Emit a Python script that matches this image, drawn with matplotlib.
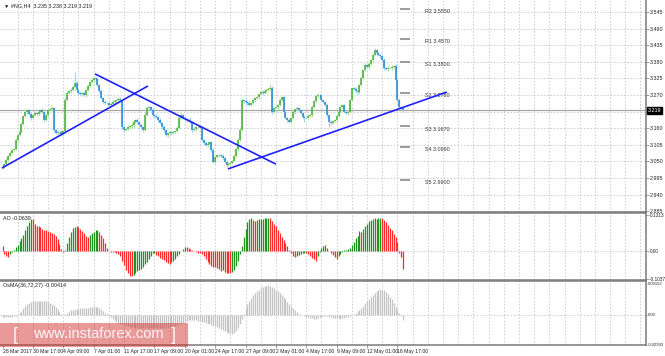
import matplotlib
matplotlib.use("Agg")
import matplotlib.pyplot as plt
import matplotlib.transforms as mtransforms
from matplotlib.patches import Rectangle

plt.rcParams["font.family"] = ["Liberation Sans", "DejaVu Sans"]

# H4 closes (bar 0 = 28 Mar 2017 01:00)
closes = [
    3.032, 3.042, 3.055, 3.068, 3.078, 3.088, 3.091, 3.121, 3.138, 3.148,
    3.174, 3.201, 3.214, 3.220, 3.207, 3.194, 3.204, 3.211, 3.207, 3.214,
    3.220, 3.214, 3.187, 3.204, 3.220, 3.224, 3.227, 3.154, 3.144, 3.148,
    3.148, 3.141, 3.151, 3.254, 3.277, 3.283, 3.287, 3.297, 3.310, 3.287,
    3.277, 3.273, 3.277, 3.270, 3.287, 3.300, 3.313, 3.320, 3.326, 3.323,
    3.303, 3.283, 3.260, 3.247, 3.244, 3.244, 3.237, 3.240, 3.247, 3.250,
    3.254, 3.257, 3.254, 3.164, 3.154, 3.158, 3.164, 3.167, 3.171, 3.181,
    3.187, 3.181, 3.171, 3.164, 3.154, 3.204, 3.227, 3.230, 3.220, 3.204,
    3.201, 3.197, 3.187, 3.177, 3.164, 3.154, 3.138, 3.144, 3.148, 3.144,
    3.148, 3.151, 3.161, 3.194, 3.204, 3.194, 3.191, 3.187, 3.184, 3.181,
    3.154, 3.158, 3.164, 3.164, 3.161, 3.121, 3.111, 3.104, 3.108, 3.114,
    3.088, 3.048, 3.065, 3.071, 3.071, 3.068, 3.061, 3.048, 3.038, 3.042,
    3.045, 3.051, 3.068, 3.091, 3.121, 3.154, 3.254, 3.250, 3.247, 3.244,
    3.237, 3.244, 3.254, 3.260, 3.263, 3.273, 3.280, 3.277, 3.283, 3.287,
    3.290, 3.293, 3.214, 3.227, 3.230, 3.237, 3.254, 3.263, 3.214, 3.194,
    3.187, 3.181, 3.194, 3.214, 3.224, 3.227, 3.220, 3.211, 3.197, 3.194,
    3.194, 3.201, 3.204, 3.230, 3.250, 3.267, 3.270, 3.270, 3.254, 3.247,
    3.237, 3.204, 3.181, 3.177, 3.184, 3.187, 3.201, 3.214, 3.230, 3.237,
    3.214, 3.211, 3.214, 3.254, 3.293, 3.290, 3.283, 3.280, 3.303, 3.326,
    3.353, 3.370, 3.363, 3.373, 3.386, 3.403, 3.419, 3.409, 3.403, 3.399,
    3.386, 3.360, 3.356, 3.360, 3.360, 3.363, 3.366, 3.320, 3.254, 3.230,
    3.227, 3.219,
]
first_open = 3.030

# wick lengths above / below the body, in 0.001 price points
wick_up = [
    4, 3, 5, 2, 6, 3, 4, 8, 3, 5, 6, 4, 9, 5, 3, 7, 4, 6, 3, 5,
    4, 8, 3, 6, 5, 4, 7, 3, 5, 4, 3, 6, 4, 9, 5, 4, 6, 7, 36, 5,
    4, 6, 3, 5, 4, 7, 5, 8, 6, 4, 5, 3, 6, 4, 5, 3, 4, 6, 5, 4,
    3, 5, 7, 4, 6, 3, 5, 4, 8, 5, 4, 6, 3, 5, 4, 9, 6, 5, 4, 7,
    3, 5, 4, 6, 3, 5, 4, 3, 6, 4, 5, 3, 7, 6, 5, 4, 6, 3, 5, 12,
    4, 5, 3, 6, 4, 5, 3, 6, 4, 5, 3, 6, 4, 5, 3, 4, 6, 3, 5, 4,
    4, 3, 5, 6, 8, 10, 5, 4, 6, 3, 5, 4, 6, 3, 5, 4, 7, 5, 6, 4,
    5, 12, 6, 4, 5, 3, 6, 4, 5, 3, 4, 6, 3, 5, 4, 6, 3, 5, 4, 6,
    3, 5, 4, 6, 5, 3, 6, 4, 5, 4, 3, 5, 4, 6, 3, 5, 4, 6, 5, 4,
    3, 5, 6, 4, 5, 3, 6, 4, 5, 7, 4, 6, 5, 7, 4, 6, 8, 5, 4, 6,
    4, 5, 3, 6, 4, 5, 3, 6, 4, 5, 4, 3,
]
wick_dn = [
    5, 4, 3, 6, 4, 5, 3, 4, 6, 3, 4, 5, 3, 6, 4, 8, 5, 3, 4, 6,
    3, 5, 7, 4, 6, 3, 5, 8, 4, 6, 5, 4, 7, 3, 5, 4, 6, 3, 5, 4,
    6, 3, 5, 4, 6, 3, 5, 4, 3, 5, 4, 6, 3, 5, 4, 7, 3, 5, 4, 6,
    3, 5, 4, 6, 5, 3, 4, 6, 5, 9, 5, 4, 6, 3, 5, 4, 3, 6, 4, 5,
    6, 3, 5, 4, 6, 5, 4, 6, 3, 5, 4, 6, 5, 3, 4, 5, 3, 6, 4, 5,
    5, 3, 6, 4, 5, 3, 6, 4, 5, 3, 6, 4, 5, 3, 6, 4, 5, 3, 6, 4,
    5, 3, 4, 6, 5, 3, 4, 5, 3, 6, 4, 5, 3, 6, 4, 5, 3, 6, 4, 5,
    3, 4, 6, 5, 3, 6, 4, 5, 3, 5, 6, 4, 5, 3, 6, 4, 5, 3, 4, 15,
    4, 5, 3, 6, 4, 5, 3, 6, 4, 5, 3, 6, 18, 5, 4, 3, 6, 4, 5, 3,
    5, 4, 6, 3, 5, 4, 6, 3, 5, 4, 3, 5, 4, 6, 3, 5, 4, 6, 3, 5,
    4, 6, 3, 5, 4, 6, 3, 5, 4, 6, 3, 4,
]

# Awesome Oscillator histogram
ao_values = [
    0.020, -0.010, -0.020, -0.022, -0.010, -0.003, 0.002, 0.015, 0.022, 0.035,
    0.046, 0.060, 0.075, 0.090, 0.105, 0.116, 0.115, 0.100, 0.093, 0.090,
    0.087, 0.082, 0.077, 0.075, 0.072, 0.068, 0.065, 0.062, 0.055, 0.045,
    0.025, 0.008, -0.005, 0.004, 0.030, 0.050, 0.070, 0.083, 0.088, 0.092,
    0.087, 0.080, 0.073, 0.065, 0.055, 0.052, 0.058, 0.064, 0.070, 0.075,
    0.077, 0.068, 0.058, 0.046, 0.030, 0.010, 0.000, -0.002, -0.003, -0.004,
    -0.006, -0.012, -0.020, -0.035, -0.050, -0.068, -0.080, -0.090, -0.093, -0.086,
    -0.079, -0.074, -0.069, -0.064, -0.057, -0.048, -0.039, -0.028, -0.018, -0.008,
    -0.007, -0.013, -0.019, -0.024, -0.028, -0.034, -0.040, -0.045, -0.046, -0.042,
    -0.035, -0.028, -0.020, -0.010, 0.000, 0.008, 0.016, 0.014, 0.010, 0.006,
    0.003, 0.000, -0.003, -0.006, -0.008, -0.012, -0.020, -0.030, -0.040, -0.048,
    -0.053, -0.057, -0.060, -0.063, -0.067, -0.072, -0.070, -0.075, -0.079, -0.081,
    -0.082, -0.076, -0.068, -0.055, -0.038, -0.010, 0.020, 0.050, 0.080, 0.105,
    0.117, 0.119, 0.112, 0.109, 0.112, 0.115, 0.117, 0.118, 0.119, 0.120,
    0.121, 0.120, 0.110, 0.100, 0.090, 0.077, 0.065, 0.052, 0.040, 0.030,
    0.018, 0.005, -0.008, -0.018, -0.023, -0.018, -0.014, -0.011, -0.008, -0.006,
    -0.009, -0.012, -0.018, -0.024, -0.031, -0.035, -0.020, -0.003, 0.012, 0.020,
    0.022, 0.012, 0.000, -0.008, -0.015, -0.022, -0.030, -0.020, -0.010, -0.005,
    0.002, 0.004, 0.006, 0.012, 0.022, 0.034, 0.046, 0.056, 0.072, 0.070,
    0.082, 0.092, 0.100, 0.108, 0.114, 0.117, 0.119, 0.118, 0.120, 0.121,
    0.119, 0.112, 0.105, 0.095, 0.085, 0.075, 0.062, 0.050, 0.032, -0.008,
    -0.022, -0.064,
]

# OsMA(36,72,27) histogram
osma_values = [
    -0.0015, -0.0016, -0.0017, -0.0016, -0.0015, -0.0013, -0.0010, -0.0005, 0.0005, 0.0020,
    0.0045, 0.0072, 0.0095, 0.0112, 0.0125, 0.0133, 0.0138, 0.0142, 0.0144, 0.0145,
    0.0145, 0.0144, 0.0142, 0.0138, 0.0133, 0.0126, 0.0115, 0.0100, 0.0082, 0.0060,
    0.0035, 0.0015, 0.0008, 0.0012, 0.0025, 0.0040, 0.0050, 0.0056, 0.0060, 0.0063,
    0.0066, 0.0068, 0.0069, 0.0070, 0.0072, 0.0076, 0.0082, 0.0087, 0.0089, 0.0087,
    0.0083, 0.0076, 0.0066, 0.0045, 0.0025, 0.0010, -0.0005, -0.0018, -0.0035, -0.0050,
    -0.0065, -0.0075, -0.0082, -0.0090, -0.0097, -0.0104, -0.0110, -0.0115, -0.0118, -0.0119,
    -0.0121, -0.0123, -0.0125, -0.0126, -0.0127, -0.0128, -0.0128, -0.0128, -0.0127, -0.0127,
    -0.0126, -0.0126, -0.0126, -0.0125, -0.0125, -0.0124, -0.0124, -0.0122, -0.0120, -0.0116,
    -0.0110, -0.0104, -0.0098, -0.0090, -0.0082, -0.0072, -0.0062, -0.0054, -0.0048, -0.0044,
    -0.0043, -0.0045, -0.0050, -0.0055, -0.0060, -0.0064, -0.0068, -0.0073, -0.0080, -0.0088,
    -0.0096, -0.0103, -0.0110, -0.0120, -0.0130, -0.0138, -0.0148, -0.0157, -0.0165, -0.0172,
    -0.0178, -0.0180, -0.0172, -0.0155, -0.0125, -0.0085, -0.0040, 0.0010, 0.0065, 0.0110,
    0.0145, 0.0175, 0.0200, 0.0220, 0.0238, 0.0252, 0.0268, 0.0280, 0.0287, 0.0293,
    0.0296, 0.0294, 0.0285, 0.0270, 0.0255, 0.0238, 0.0220, 0.0203, 0.0180, 0.0158,
    0.0135, 0.0112, 0.0090, 0.0070, 0.0050, 0.0030, 0.0018, 0.0008, 0.0002, -0.0005,
    -0.0012, -0.0018, -0.0024, -0.0030, -0.0036, -0.0036, -0.0030, -0.0020, -0.0012, -0.0006,
    -0.0005, -0.0008, -0.0012, -0.0016, -0.0022, -0.0027, -0.0030, -0.0031, -0.0032, -0.0031,
    -0.0028, -0.0020, -0.0012, -0.0008, 0.0002, 0.0014, 0.0028, 0.0040, 0.0055, 0.0072,
    0.0095, 0.0118, 0.0140, 0.0162, 0.0185, 0.0205, 0.0222, 0.0240, 0.0252, 0.0259,
    0.0255, 0.0246, 0.0230, 0.0210, 0.0185, 0.0162, 0.0121, 0.0085, 0.0056, 0.0025,
    0.0007, -0.0041,
]

time_labels = ["28 Mar 2017", "30 Mar 17:00", "4 Apr 09:00", "7 Apr 01:00",
               "11 Apr 17:00", "17 Apr 09:00", "20 Apr 01:00", "24 Apr 17:00",
               "27 Apr 09:00", "2 May 01:00", "4 May 17:00", "9 May 09:00",
               "12 May 01:00", "16 May 17:00"]
price_ticks = [3.545, 3.490, 3.435, 3.380, 3.325, 3.270, 3.215,
               3.160, 3.105, 3.050, 2.995, 2.940, 2.885]
ao_ticks = [0.1313, 0.0, -0.1037]
ao_tick_labels = ["0.1313", "0.00", "-0.1037"]
osma_ticks = [0.03152, 0.0, -0.02933]
osma_tick_labels = ["0.03152", "0.00", "-0.02933"]

pivot_names = ["R2", "R1", "S1", "S2", "S3", "S4", "S5"]
pivot_levels = [3.5550, 3.4570, 3.3800, 3.2780, 3.1670, 3.0990, 2.9900]

# hand-drawn trend lines: (bar, price) end points
trend_lines = [
    ((-0.3, 3.028), (76.6, 3.300)),
    ((48.7, 3.340), (144.0, 3.041)),
    ((118.7, 3.025), (234.0, 3.280)),
]

header = "#NG,H4  3.235 3.238 3.219 3.219"
ao_label = "AO -0.0639"
osma_label = "OsMA(36,72,27) -0.00414"

W, H = 665, 356
XMIN, XMAX = -1.32, 338.9
GRID = "#c3c8d2"
FRAME = "#7a7a7a"
FS = 3.9

fig = plt.figure(figsize=(W / 100, H / 100), dpi=100)
fig.patch.set_facecolor("white")


def panel(top, bottom, labelsize, ticklen=2, pad=1):
    a = fig.add_axes([0, 1 - bottom / H, 646 / W, (bottom - top) / H])
    a.set_xlim(XMIN, XMAX)
    a.spines["left"].set_visible(False)
    for s in ("top", "bottom", "right"):
        a.spines[s].set_color(FRAME)
        a.spines[s].set_linewidth(1.1)
    a.yaxis.tick_right()
    a.tick_params(axis="y", length=ticklen, width=0.5, color=FRAME, pad=pad,
                  labelsize=labelsize, labelcolor="#222222")
    a.tick_params(axis="x", length=0, labelbottom=False)
    for g in range(8, 339, 8):
        a.axvline(g, color=GRID, lw=0.6, ls=(0, (2, 2)), zorder=0)
    return a


ax = panel(0, 212, FS)
ax_ao = panel(213, 280, 3.4)
ax_os = panel(281, 345, 3.0, ticklen=1, pad=0.5)
ax.spines["top"].set_visible(False)

# ---- price panel ----
n = len(closes)
x = list(range(n))
opens = [first_open] + closes[:-1]
highs = [max(o, c) + w / 1000 for o, c, w in zip(opens, closes, wick_up)]
lows = [min(o, c) - w / 1000 for o, c, w in zip(opens, closes, wick_dn)]
up = [c >= o for o, c in zip(opens, closes)]

ax.set_ylim(2.8824, 3.5848)
for p in price_ticks:
    ax.axhline(p, color=GRID, lw=0.6, ls=(0, (2, 2)), zorder=0)
ax.set_yticks(price_ticks)
ax.set_yticklabels(["" if abs(p - closes[-1]) < 0.01 else "%.3f" % p for p in price_ticks])

ax.axhline(closes[-1], color="#a8a8a8", lw=0.9, zorder=1)

ax.vlines(x, lows, highs, colors=["#b5e3a6" if u else "#9fd3ee" for u in up],
          lw=0.9, zorder=2)
ax.vlines(x, opens, closes, colors=["#47b33a" if u else "#2a8ccf" for u in up],
          lw=1.15, zorder=3)

for (x0, y0), (x1, y1) in trend_lines:
    ax.plot([x0, x1], [y0, y1], color="#1f1fff", lw=1.2, zorder=4,
            solid_capstyle="butt")

ax.hlines(pivot_levels, 209.3, 214.6, colors="#8a8a8a", lw=1.2, zorder=4)
for name, lvl in zip(pivot_names, pivot_levels):
    ax.annotate("%s %.4f" % (name, lvl), (222.5, lvl), xytext=(0, -3),
                textcoords="offset pixels", fontsize=FS, color="#333333",
                va="center", ha="left")

trans = mtransforms.blended_transform_factory(ax.transAxes, ax.transData)
ax.text(1.003, closes[-1], "%.3f" % closes[-1], transform=trans, fontsize=FS,
        color="white", va="center", ha="left", clip_on=False, zorder=10,
        bbox=dict(boxstyle="square,pad=0.15", fc="black", ec="black"))

# ---- AO panel ----
ax_ao.set_ylim(-0.1059, 0.1387)
ax_ao.axhline(0, color=GRID, lw=0.6, ls=(0, (2, 2)), zorder=0)
ao_colors = ["#ff2a2a"]
for prev, cur in zip(ao_values[:-1], ao_values[1:]):
    ao_colors.append("#1e961e" if cur > prev else "#ff2a2a")
ax_ao.vlines(x, 0, ao_values, colors=ao_colors, lw=0.9)
ax_ao.set_yticks(ao_ticks)
ax_ao.set_yticklabels(ao_tick_labels)

# ---- OsMA panel ----
ax_os.set_ylim(-0.0291, 0.0340)
ax_os.axhline(0, color=GRID, lw=0.6, ls=(0, (2, 2)), zorder=0)
ax_os.vlines(x, 0, osma_values, colors="#c4c4c4", lw=0.9)
ax_os.set_yticks(osma_ticks)
ax_os.set_yticklabels(osma_tick_labels)
ax_os.set_xticks(list(range(0, 16 * len(time_labels), 16)))
ax_os.set_xticklabels(time_labels)
ax_os.tick_params(axis="x", length=2, width=0.5, color=FRAME, pad=1,
                  labelbottom=True, labelsize=3.7, labelcolor="#222222")
for lab in ax_os.get_xticklabels():
    lab.set_ha("left")
for lab in ax_os.get_yticklabels():
    lab.set_va("center")

# ---- labels ----
fig.text(4 / W, 1 - 6 / H, "\u25bc " + header, fontsize=FS,
         color="#222222", va="center", ha="left")
fig.text(3 / W, 1 - 218 / H, ao_label, fontsize=FS, color="#222222",
         va="center", ha="left")
fig.text(3 / W, 1 - 285 / H, osma_label, fontsize=FS, color="#222222",
         va="center", ha="left")

# watermark
fig.patches.append(Rectangle((0, 1 - 347 / H), 188 / W, 24 / H,
                             transform=fig.transFigure, facecolor="#d42a2a",
                             alpha=0.48, edgecolor="none", zorder=5))
fig.text(13 / W, 1 - 336 / H, "[", fontsize=13, color="white", alpha=0.9,
         va="center", ha="left", zorder=6, fontweight="light")
fig.text(98 / W, 1 - 334 / H, "www.instaforex.com", fontsize=10.5,
         color="white", alpha=0.9, va="center", ha="center", zorder=6)
fig.text(176 / W, 1 - 336 / H, "]", fontsize=13, color="white", alpha=0.9,
         va="center", ha="right", zorder=6, fontweight="light")

fig.savefig("out.png", dpi=100)
